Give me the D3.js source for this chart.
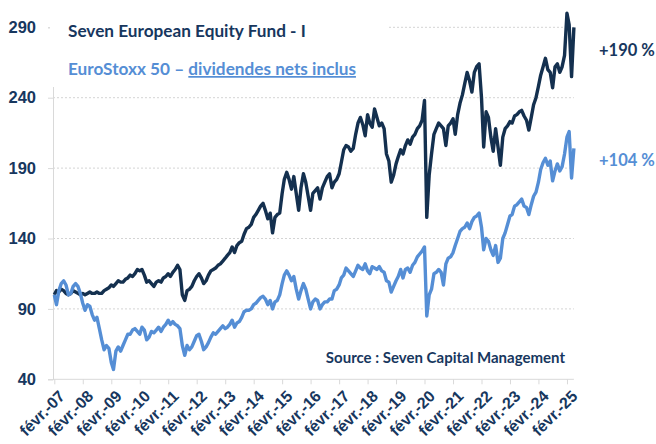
<!DOCTYPE html>
<html>
<head>
<meta charset="utf-8">
<script src="https://cdn.jsdelivr.net/npm/d3@7"></script>
<style>
  body { margin: 0; background: #fff; }
  svg { display: block; font-family: Lato, "Open Sans", sans-serif; }
</style>
</head>
<body>
<div id="chart"></div>
<script>
// Monthly values, Feb 2007 -> May 2025 (base 100)
const fund = [
  100,103,102,104,103,101,100,101,103,102,101,100,
  101,100,101,102,101,101,102,101,101,103,104,105,
  107,106,108,110,109,109,111,112,114,113,115,118,
  117,118,114,109,110,108,106,109,110,109,112,113,
  115,113,116,118,121,118,100,96,103,104,106,110,
  113,115,112,108,110,114,117,118,119,121,122,124,
  126,128,130,134,130,135,137,138,143,147,148,150,
  155,157,160,163,165,160,154,158,144,155,157,158,
  172,182,187,182,175,184,172,160,176,186,180,170,
  160,172,174,176,168,176,180,184,186,176,180,182,
  186,194,203,206,205,202,204,214,222,226,221,213,
  228,222,219,232,226,220,222,218,200,195,180,185,
  193,198,203,200,206,210,207,212,214,218,220,224,
  238,155,185,200,214,218,222,220,218,206,220,222,
  225,214,228,236,242,250,258,252,244,258,262,264,
  240,205,230,226,212,202,218,205,192,212,218,220,
  223,222,227,228,230,231,227,224,217,226,235,240,
  248,256,262,268,260,258,247,262,264,258,262,270,
  300,292,255,290
];
const eurostoxx = [
  100,93,103,108,110,107,100,101,106,108,106,101,
  94,89,93,92,86,82,84,76,68,61,64,62,
  52,47,60,63,60,64,68,72,72,75,76,74,
  72,77,75,68,70,74,73,75,77,74,77,79,
  82,79,81,79,78,76,64,57,64,61,63,67,
  71,72,67,61,63,66,70,73,72,74,76,78,
  76,77,79,82,77,80,81,84,88,89,89,90,
  93,94,96,98,99,97,93,96,90,95,96,100,
  108,114,117,114,110,113,104,97,103,108,104,97,
  90,95,97,96,90,93,95,95,97,97,103,104,
  107,112,114,119,117,115,113,117,121,119,118,122,
  117,115,120,119,118,120,117,116,110,109,102,106,
  110,113,118,112,118,119,116,121,123,127,129,131,
  134,85,100,104,115,116,118,116,107,122,126,127,
  130,135,140,145,147,148,151,147,152,155,156,158,
  148,132,140,138,132,128,135,123,126,140,144,150,
  156,157,163,164,166,168,163,162,157,164,170,173,
  180,189,194,197,192,195,181,188,193,188,191,200,
  212,216,183,204
];
const yTicks = [40, 90, 140, 190, 240, 290];
const tickYears = d3.range(2007, 2026);
const tickLabels = ["févr.-07","févr.-08","févr.-09","févr.-10","févr.-11","févr.-12",
  "févr.-13","févr.-14","févr.-15","févr.-16","févr.-17","févr.-18","févr.-19",
  "févr.-20","févr.-21","févr.-22","févr.-23","févr.-24","févr.-25"];
const seriesNames = ["Seven European Equity Fund - I", "EuroStoxx 50 – ", "dividendes nets inclus"];
const endLabels = ["+190 %", "+104 %"];

const width = 656, height = 444;
const dark = "#14304f", light = "#558ed5", textDark = "#17375e";

const start = new Date(2007, 1, 1);
const dates = fund.map((d, i) => d3.timeMonth.offset(start, i));

const x = d3.scaleTime()
    .domain([start, dates[dates.length - 1]])
    .range([54.3, 573.9]);
const y = d3.scaleLinear().domain([40, 290]).range([379.3, 27.3]);

const svg = d3.select("#chart").append("svg")
    .attr("width", width)
    .attr("height", height);

// gridlines
svg.append("g")
    .selectAll("line")
    .data(yTicks.slice(1))
    .enter().append("line")
    .attr("x1", 53).attr("x2", 573.9)
    .attr("y1", d => y(d)).attr("y2", d => y(d))
    .attr("stroke", "#d4d4d4")
    .attr("stroke-width", 1)
    .attr("stroke-dasharray", "2,2");

// y axis
const yAxis = svg.append("g")
    .attr("transform", "translate(53,0)")
    .call(d3.axisLeft(y).tickValues(yTicks).tickSize(5).tickPadding(12));
yAxis.select(".domain").attr("stroke", "#d9d9d9");
yAxis.selectAll(".tick line").attr("stroke", "#d9d9d9");
yAxis.selectAll("text")
    .attr("fill", textDark)
    .style("font-size", "16.5px")
    .style("font-weight", "bold");

// x axis
const tickDates = tickYears.map(yr => new Date(yr, 1, 1));
const xAxis = svg.append("g")
    .attr("transform", `translate(0,${y(40)})`)
    .call(d3.axisBottom(x).tickValues(tickDates).tickSize(5)
        .tickFormat((d, i) => tickLabels[i]));
xAxis.select(".domain").attr("stroke", "#d9d9d9").attr("d", `M53,0H573.9`);
xAxis.selectAll(".tick line").attr("stroke", "#d9d9d9");
xAxis.selectAll("text")
    .attr("fill", textDark)
    .style("font-size", "16px")
    .style("font-weight", "bold")
    .attr("text-anchor", "end")
    .attr("transform", "translate(7,14) rotate(-45)")
    .attr("dy", "0.35em")
    .attr("y", 0)
    .attr("x", 0);

// lines
const line = d3.line()
    .x((d, i) => x(dates[i]))
    .y(d => y(d));

svg.append("path")
    .datum(fund)
    .attr("fill", "none")
    .attr("stroke", dark)
    .attr("stroke-width", 3.4)
    .attr("stroke-linejoin", "round")
    .attr("d", line);

svg.append("path")
    .datum(eurostoxx)
    .attr("fill", "none")
    .attr("stroke", light)
    .attr("stroke-width", 3.4)
    .attr("stroke-linejoin", "round")
    .attr("d", line);

// legend box
svg.append("rect")
    .attr("x", 50).attr("y", 0)
    .attr("width", 338).attr("height", 87)
    .attr("fill", "#fff");

svg.append("text")
    .attr("x", 68).attr("y", 37)
    .attr("fill", textDark)
    .style("font-size", "17.2px")
    .style("font-weight", "bold")
    .text(seriesNames[0]);

const leg2 = svg.append("text")
    .attr("x", 68).attr("y", 75)
    .attr("fill", light)
    .style("font-size", "17.2px")
    .style("font-weight", "bold");
leg2.append("tspan").text(seriesNames[1]);
leg2.append("tspan").attr("text-decoration", "underline").text(seriesNames[2]);

// end labels
svg.append("text")
    .attr("x", 599).attr("y", 56)
    .attr("fill", textDark)
    .style("font-size", "16.5px")
    .style("font-weight", "bold")
    .text(endLabels[0]);
svg.append("text")
    .attr("x", 599).attr("y", 166)
    .attr("fill", light)
    .style("font-size", "16.5px")
    .style("font-weight", "bold")
    .text(endLabels[1]);

// source
svg.append("text")
    .attr("x", 565).attr("y", 363)
    .attr("text-anchor", "end")
    .attr("fill", textDark)
    .style("font-size", "15px")
    .style("font-weight", "bold")
    .text("Source : Seven Capital Management");
</script>
</body>
</html>
